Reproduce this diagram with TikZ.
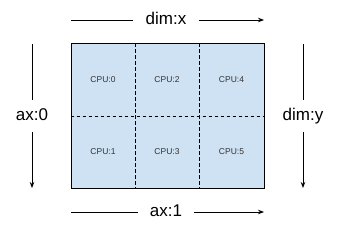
\documentclass[tikz,border=0pt]{standalone}
\usepackage{fontspec}
\setmainfont{Liberation Sans}
\usepackage{tikz}
\usetikzlibrary{arrows.meta, positioning, calc}
\usepackage{xcolor}
\definecolor{CellBg}{HTML}{CFE2F3}
\definecolor{Ink}{HTML}{000000}
\definecolor{CellText}{HTML}{333333}

\begin{document}
\begin{tikzpicture}[x=1pt, y=-1pt,
            mesh/.style={rectangle, draw=Ink, thick, fill=CellBg, minimum width=193pt, minimum height=145pt, inner sep=0pt},
            cpu/.style={font=\fontsize{8.5}{10}\selectfont, color=CellText, inner sep=0pt},
            axis/.style={font=\fontsize{17}{20}\selectfont, text height=12pt, text depth=3pt, inner xsep=12pt, inner ysep=8pt},
            split/.style={draw=Ink, thick, dash pattern=on 3.5pt off 2.5pt},
            line/.style={draw=Ink, thick},
            arrow/.style={-{Stealth[length=6pt, width=4.5pt]}, thick, color=Ink}
        ]
            \useasboundingbox (0,0) rectangle (344,240);

            % Device mesh
            \node[mesh] (mesh) at (167.5,116) {};
            \draw[split] ($(mesh.north west)!1/3!(mesh.north east)$) -- ($(mesh.south west)!1/3!(mesh.south east)$);
            \draw[split] ($(mesh.north west)!2/3!(mesh.north east)$) -- ($(mesh.south west)!2/3!(mesh.south east)$);
            \draw[split] (mesh.west) -- (mesh.east);
            \node[mesh, fill=none] (frame) at (mesh.center) {};

            % CPUs
            \node[cpu] (cpu0) at (103,80) {CPU:0};
            \node[cpu] (cpu2) at (167,80) {CPU:2};
            \node[cpu] (cpu4) at (231.5,80) {CPU:4};
            \node[cpu] (cpu1) at (103,152) {CPU:1};
            \node[cpu] (cpu3) at (167,152) {CPU:3};
            \node[cpu] (cpu5) at (231.5,152) {CPU:5};

            % Axis labels
            \node[axis] (dimx) at (166,20) {dim:x};
            \node[axis] (ax1) at (166,212) {ax:1};
            \node[axis] (ax0) at (32,116) {ax:0};
            \node[axis] (dimy) at (303,116) {dim:y};

            \coordinate (dimxs) at (71,20);
            \coordinate (dimxe) at (264,20);
            \coordinate (ax1s) at (71,212);
            \coordinate (ax1e) at (264,212);
            \coordinate (ax0s) at (32,44);
            \coordinate (ax0e) at (32,188);
            \coordinate (dimys) at (303,44);
            \coordinate (dimye) at (303,188);

            % Arrows
            \draw[line] (dimxs) -- (dimx);
            \draw[arrow] (dimx) -- (dimxe);
            \draw[line] (ax1s) -- (ax1);
            \draw[arrow] (ax1) -- (ax1e);
            \draw[line] (ax0s) -- (ax0);
            \draw[arrow] (ax0) -- (ax0e);
            \draw[line] (dimys) -- (dimy);
            \draw[arrow] (dimy) -- (dimye);
        \end{tikzpicture}
\end{document}
